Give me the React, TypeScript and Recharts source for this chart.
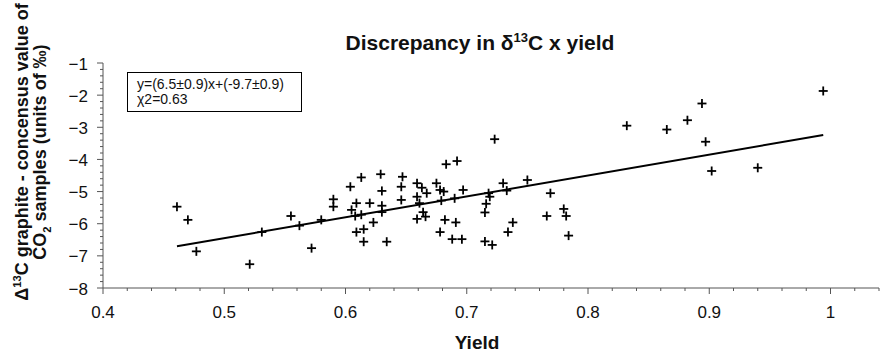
import { ReferenceLine, Scatter, ScatterChart, XAxis, YAxis } from "recharts";

const yieldValues = [
  0.461, 0.47, 0.477, 0.521, 0.531, 0.555, 0.562, 0.572, 0.58, 0.59, 0.59, 0.604, 0.605, 0.609,
  0.608, 0.609, 0.613, 0.613, 0.615, 0.615, 0.62, 0.623, 0.629, 0.63, 0.63, 0.63, 0.634, 0.647,
  0.646, 0.646, 0.659, 0.659, 0.661, 0.659, 0.663, 0.667, 0.664, 0.666, 0.675, 0.678, 0.681,
  0.683, 0.692, 0.679, 0.69, 0.697, 0.682, 0.691, 0.678, 0.688, 0.696, 0.723, 0.715, 0.716,
  0.718, 0.719, 0.715, 0.721, 0.73, 0.733, 0.734, 0.738, 0.75, 0.769, 0.766, 0.78, 0.782, 0.784,
  0.832, 0.865, 0.882, 0.894, 0.897, 0.902, 0.94, 0.994,
];

const discrepancyValues = [
  -5.47, -5.88, -6.86, -7.26, -6.26, -5.76, -6.06, -6.76, -5.88, -5.24, -5.47, -4.85, -5.57, -5.36,
  -5.76, -6.26, -4.56, -5.72, -6.17, -6.56, -5.36, -5.96, -4.46, -4.98, -5.44, -5.64, -6.56, -4.54,
  -4.85, -5.26, -4.74, -5.16, -5.36, -5.85, -4.88, -5.05, -5.64, -5.78, -4.74, -4.95, -5.0,
  -4.15, -4.05, -5.28, -5.21, -4.95, -5.88, -5.96, -6.26, -6.48, -6.48, -3.37, -5.65, -5.38,
  -5.05, -5.16, -6.55, -6.66, -4.74, -4.97, -6.26, -5.96, -4.64, -5.05, -5.76, -5.54, -5.76, -6.37,
  -2.95, -3.07, -2.78, -2.26, -3.45, -4.36, -4.26, -1.87,
];

const fitSlope = 6.5;
const fitIntercept = -9.7;

const xMajorTicks = [0.4, 0.5, 0.6, 0.7, 0.8, 0.9, 1];
const yMajorTicks = [-8, -7, -6, -5, -4, -3, -2, -1];

const xTicks: number[] = [];
for (let i = 40; i <= 104; i += 2) xTicks.push(i / 100);
const yTicks: number[] = [];
for (let i = -80; i <= -10; i += 2) yTicks.push(i / 10);

const points = yieldValues.map((x, i) => ({ x, y: discrepancyValues[i] }));
const xMin = Math.min(...yieldValues);
const xMax = Math.max(...yieldValues);
const fitSegment = [
  { x: xMin, y: fitSlope * xMin + fitIntercept },
  { x: xMax, y: fitSlope * xMax + fitIntercept },
];

const FONT = '"Liberation Sans", Arial, Helvetica, sans-serif';
const AXIS = "#555";

const isMajor = (v: number, list: number[]) => list.some((m) => Math.abs(m - v) < 1e-6);

function XTick({ x, y, payload }: any) {
  const major = isMajor(payload.value, xMajorTicks);
  return (
    <g>
      <line x1={x} x2={x} y1={y} y2={y + (major ? 6 : 3)} stroke={AXIS} />
      {major && (
        <text x={x} y={y + 24} textAnchor="middle" dominantBaseline="central" fontSize={17} fill="#111" fontFamily={FONT}>
          {payload.value === 1 ? "1" : payload.value.toFixed(1)}
        </text>
      )}
    </g>
  );
}

function YTick({ x, y, payload }: any) {
  const major = isMajor(payload.value, yMajorTicks);
  return (
    <g>
      <line x1={x} x2={x - (major ? 6 : 3)} y1={y} y2={y} stroke={AXIS} />
      {major && (
        <text x={x - 15} y={y + 1} textAnchor="end" dominantBaseline="central" fontSize={17} fill="#111" fontFamily={FONT}>
          {"\u2212" + Math.abs(payload.value)}
        </text>
      )}
    </g>
  );
}

function Cross({ cx, cy }: any) {
  return (
    <g stroke="#000" strokeWidth={1.8}>
      <line x1={cx - 4.5} x2={cx + 4.5} y1={cy} y2={cy} />
      <line x1={cx} x2={cx} y1={cy - 4.5} y2={cy + 4.5} />
    </g>
  );
}

export default function App() {
  return (
    <div style={{ position: "absolute", left: 0, top: 0, width: 881, height: 353, background: "#fff", fontFamily: FONT }}>
      <ScatterChart width={881} height={353} margin={{ top: 63, right: 2, bottom: 25, left: 0 }}>
        <XAxis
          type="number"
          dataKey="x"
          domain={[0.4, 1.04]}
          ticks={xTicks}
          interval={0}
          tickSize={0}
          tickMargin={0}
          tickLine={false}
          tick={<XTick />}
          axisLine={{ stroke: AXIS }}
          height={40}
          allowDataOverflow
        />
        <YAxis
          type="number"
          dataKey="y"
          domain={[-8, -1]}
          ticks={yTicks}
          interval={0}
          tickSize={0}
          tickMargin={0}
          tickLine={false}
          tick={<YTick />}
          axisLine={{ stroke: AXIS }}
          width={103}
          allowDataOverflow
        />
        <ReferenceLine segment={fitSegment} stroke="#000" strokeWidth={2} />
        <Scatter data={points} shape={<Cross />} isAnimationActive={false} />
      </ScatterChart>

      <div
        style={{
          position: "absolute",
          left: 480,
          top: 31,
          transform: "translateX(-50%)",
          fontSize: 21,
          fontWeight: 700,
          lineHeight: "24px",
          whiteSpace: "nowrap",
          color: "#111",
        }}
      >
        Discrepancy in δ<span style={{ fontSize: "0.62em", verticalAlign: "super", lineHeight: 0 }}>13</span>C x yield
      </div>

      <div
        style={{
          position: "absolute",
          left: 127,
          top: 72,
          width: 175,
          height: 40,
          boxSizing: "border-box",
          border: "1px solid #000",
          padding: "4px 0 0 9px",
          fontSize: 14,
          lineHeight: "15px",
          color: "#111",
          background: "#fff",
          whiteSpace: "nowrap",
        }}
      >
        <div>y=(6.5±0.9)x+(-9.7±0.9)</div>
        <div>χ2=0.63</div>
      </div>

      <div
        style={{
          position: "absolute",
          left: 477,
          top: 331,
          transform: "translateX(-50%)",
          fontSize: 19,
          fontWeight: 700,
          lineHeight: "24px",
          color: "#111",
        }}
      >
        Yield
      </div>

      <div
        style={{
          position: "absolute",
          left: 31 - 170,
          top: 152 - 18,
          width: 340,
          height: 36,
          transform: "rotate(-90deg)",
          transformOrigin: "center",
          textAlign: "center",
          fontSize: 18,
          fontWeight: 700,
          lineHeight: "18px",
          color: "#111",
          whiteSpace: "nowrap",
        }}
      >
        <div>
          Δ<span style={{ fontSize: "0.62em", verticalAlign: "super", lineHeight: 0 }}>13</span>C graphite - concensus value of
        </div>
        <div>
          CO<span style={{ fontSize: "0.62em", verticalAlign: "sub", lineHeight: 0 }}>2</span> samples (units of ‰)
        </div>
      </div>
    </div>
  );
}
